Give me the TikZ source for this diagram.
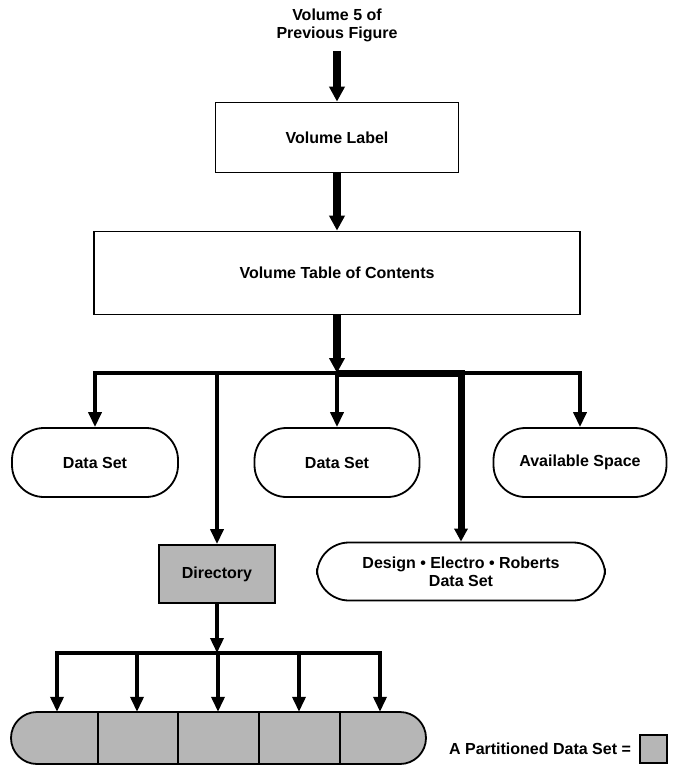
\documentclass[tikz,border=0pt]{standalone}
\usepackage{fontspec}
\setmainfont{Liberation Sans}
\usetikzlibrary{arrows.meta, math, positioning}
\definecolor{dsgray}{RGB}{182,182,182}

\begin{document}
\begin{tikzpicture}[x=1pt,y=-1pt,
  every node/.style={font=\bfseries\fontsize{16}{18}\selectfont, align=center},
  box/.style={draw, line width=1.8pt, inner sep=0pt},
  dsbox/.style={box, rounded corners=32pt, minimum height=69pt},
  feed/.style={line width=8pt, -{Triangle[length=15pt,width=15pt]}},
  branch/.style={line width=3.5pt, -{Triangle[length=15pt,width=13pt]}}]
\tikzmath{
\cx=337;
\jy=373;
\by=653;
}
\useasboundingbox (0,0) rectangle (674,766);

\node (title) at (\cx,25) {Volume 5 of\\Previous Figure};
\node[box, minimum width=243pt, minimum height=70pt] (vlabel) at (\cx,137.5) {Volume Label};
\node[box, minimum width=486pt, minimum height=83pt] (vtoc) at (\cx,273) {Volume Table of Contents};
\coordinate (jn) at (\cx,\jy);

\node[dsbox, minimum width=166pt] (ds1) at (95,462.5) {Data Set};
\node[dsbox, minimum width=165pt] (ds2) at (\cx,462.5) {Data Set};
\node[dsbox, minimum width=173pt] (avail) at (580,462.5) {Available Space};
\node[box, fill=dsgray, minimum width=116pt, minimum height=58pt] (dir) at (217,574) {Directory};
\node[dsbox, minimum width=288pt, minimum height=58pt] (design) at (461,571.5) {Design \textbullet{} Electro \textbullet{} Roberts\\Data Set};

\draw[feed, shorten <=6pt] (title) -- (vlabel);
\draw[feed] (vlabel) -- (vtoc);
\draw[feed] (vtoc) -- (jn);

\draw[branch] (jn) -| (ds1);
\draw[branch] (jn) -| (dir);
\draw[branch] (jn) -- (ds2);
\draw[branch] (jn) -| (avail);
\draw[line width=7pt, -{Triangle[length=13pt,width=13pt]}] (jn) -| (design);

% partitioned data set
\coordinate (jb) at (217,\by);
\node[box, fill=dsgray, rounded corners=26pt, minimum width=415pt, minimum height=52pt] (bar) at (218.5,738) {};
\foreach \x [count=\i] in {57,137,218,299,380}
  \node[inner sep=0pt, minimum width=81pt, minimum height=52pt] (p\i) at (\x,738) {};
\foreach \i in {1,...,4}
  \draw[line width=1.8pt] (p\i.north east) -- (p\i.south east);

\draw[branch] (dir) -- (jb);
\foreach \i in {1,...,5}
  \draw[branch] (jb) -| (p\i);

\node[inner sep=0pt] (legend) at (540,749) {A Partitioned Data Set =};
\node[box, fill=dsgray, minimum width=27pt, minimum height=28pt, right=8pt of legend] (key) {};
\end{tikzpicture}
\end{document}
